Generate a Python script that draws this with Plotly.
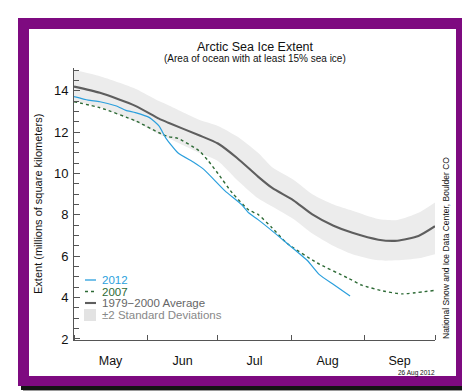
import plotly.graph_objects as go

# ---------------- data ----------------
avg_dates = ["2012-05-01", "2012-05-12", "2012-05-27", "2012-06-06", "2012-06-10", "2012-06-23",
             "2012-07-01", "2012-07-09", "2012-07-18", "2012-07-24", "2012-08-02", "2012-08-10",
             "2012-08-19", "2012-08-27", "2012-09-07", "2012-09-15", "2012-09-24", "2012-10-01"]
avg_vals = [14.2, 13.9, 13.27, 12.65, 12.45, 11.85, 11.45, 10.76, 9.85, 9.3, 8.7, 8.02,
            7.47, 7.13, 6.8, 6.75, 6.98, 7.45]
sd_upper = [15.0, 14.7, 14.1, 13.5, 13.3, 12.6, 12.3, 11.8, 11.0, 10.3, 9.7, 9.0,
            8.5, 8.2, 7.8, 7.75, 8.1, 8.6]
sd_lower = [13.5, 13.2, 12.5, 11.9, 11.7, 11.0, 10.6, 9.7, 8.8, 8.4, 7.8, 7.1,
            6.5, 6.1, 5.8, 5.8, 5.9, 6.1]

y2012_dates = ["2012-05-01", "2012-05-07", "2012-05-12", "2012-05-19", "2012-05-23", "2012-05-27",
               "2012-06-02", "2012-06-06", "2012-06-09", "2012-06-14", "2012-06-21", "2012-06-25",
               "2012-07-04", "2012-07-11", "2012-07-14", "2012-07-18", "2012-07-25", "2012-07-30",
               "2012-08-08", "2012-08-13", "2012-08-19", "2012-08-26"]
y2012_vals = [13.72, 13.55, 13.47, 13.26, 13.05, 12.94, 12.7, 12.3, 11.7, 11.0, 10.52, 10.2,
              9.16, 8.5, 8.1, 7.77, 7.13, 6.65, 5.78, 5.11, 4.63, 4.08]

y2007_dates = ["2012-05-01", "2012-05-12", "2012-05-27", "2012-06-06", "2012-06-10", "2012-06-14",
               "2012-06-23", "2012-06-27", "2012-07-01", "2012-07-07", "2012-07-14", "2012-07-18",
               "2012-07-24", "2012-07-30", "2012-08-12", "2012-08-25", "2012-08-31", "2012-09-09",
               "2012-09-17", "2012-10-01"]
y2007_vals = [13.47, 13.18, 12.55, 11.97, 11.78, 11.7, 11.1, 10.6, 10.0, 9.07, 8.24, 8.02,
              7.37, 6.65, 5.68, 4.95, 4.6, 4.32, 4.18, 4.35]

y_tick_vals = [2, 4, 6, 8, 10, 12, 14]
legend_labels = ["2012", "2007", "1979\u22122000 Average", "\u00b12 Standard Deviations"]

# ---------------- layout geometry ----------------
W, H = 470, 391
L, R, T, B = 66, 427, 60, 332  # plot area in pixels
PW, PH = R - L, B - T


def px(x):
    return (x - L) / PW


def py(y):
    return (B - y) / PH


FONT = "Liberation Sans, Arial, Helvetica, sans-serif"
BLUE = "#2a9fdd"
GREEN = "#2d6a35"
AVG = "#5e5e5e"
BAND = "#ececec"

fig = go.Figure()
fig.add_trace(go.Scatter(x=avg_dates, y=sd_upper, mode="lines",
                         line=dict(width=0, shape="spline", smoothing=0.6),
                         showlegend=False, hoverinfo="skip"))
fig.add_trace(go.Scatter(x=avg_dates, y=sd_lower, mode="lines",
                         line=dict(width=0, shape="spline", smoothing=0.6),
                         fill="tonexty", fillcolor=BAND, showlegend=False, hoverinfo="skip"))
fig.add_trace(go.Scatter(x=avg_dates, y=avg_vals, mode="lines",
                         line=dict(color=AVG, width=2.1, shape="spline", smoothing=0.6), showlegend=False))
fig.add_trace(go.Scatter(x=y2007_dates, y=y2007_vals, mode="lines",
                         line=dict(color=GREEN, width=1.4, dash="3px,3px", shape="spline", smoothing=0.5),
                         showlegend=False))
fig.add_trace(go.Scatter(x=y2012_dates, y=y2012_vals, mode="lines",
                         line=dict(color=BLUE, width=1.2, shape="spline", smoothing=0.5),
                         showlegend=False))

shapes = [
    # frame: shadow, purple border, white inner panel
    dict(type="rect", xref="paper", yref="paper", x0=px(15), x1=px(465), y0=py(384), y1=py(15),
         fillcolor="#9a9a9a", line=dict(width=0), layer="below"),
    dict(type="rect", xref="paper", yref="paper", x0=px(13), x1=px(463), y0=py(382), y1=py(13),
         fillcolor="#141414", line=dict(width=0), layer="below"),
    dict(type="rect", xref="paper", yref="paper", x0=px(10), x1=px(459), y0=py(378), y1=py(10),
         fillcolor="#7e0a80", line=dict(width=0), layer="below"),
    dict(type="rect", xref="paper", yref="paper", x0=px(21), x1=px(448), y0=py(368), y1=py(21),
         fillcolor="white", line=dict(width=0), layer="below"),
    # legend glyphs
    dict(type="line", xref="paper", yref="paper", x0=px(77), x1=px(88), y0=py(272), y1=py(272),
         line=dict(color=BLUE, width=1.3)),
    dict(type="line", xref="paper", yref="paper", x0=px(77), x1=px(88), y0=py(283.5), y1=py(283.5),
         line=dict(color=GREEN, width=1.4, dash="3px,3px")),
    dict(type="line", xref="paper", yref="paper", x0=px(77), x1=px(88), y0=py(295), y1=py(295),
         line=dict(color=AVG, width=2.1)),
    dict(type="rect", xref="paper", yref="paper", x0=px(76), x1=px(88), y0=py(313), y1=py(301),
         fillcolor="#e3e3e3", line=dict(width=0)),
]

annotations = [
    dict(text="Arctic Sea Ice Extent", x=px(247), y=py(39), font=dict(size=12.5, color="#111")),
    dict(text="(Area of ocean with at least 15% sea ice)", x=px(247), y=py(50.5),
         font=dict(size=10, color="#111")),
    dict(text="Extent (millions of square kilometers)", x=px(30), y=py(196), textangle=-90,
         font=dict(size=11, color="#111")),
    dict(text="National Snow and Ice Data Center, Boulder CO", x=px(438), y=py(240), textangle=-90,
         font=dict(size=8.5, color="#111")),
    dict(text="26 Aug 2012", x=px(408), y=py(365), font=dict(size=6.5, color="#111")),
]
leg_colors = [BLUE, GREEN, "#666666", "#888888"]
leg_y = [272, 283.5, 295, 307]
for lab, col, yy in zip(legend_labels, leg_colors, leg_y):
    annotations.append(dict(text=lab, x=px(92), y=py(yy), xanchor="left",
                            font=dict(size=11.5, color=col)))
for a in annotations:
    a.update(xref="paper", yref="paper", showarrow=False)
    a.setdefault("xanchor", "center")
    a["yanchor"] = "middle"
    a["font"]["family"] = FONT

fig.update_layout(
    width=W, height=H,
    margin=dict(l=L, r=W - R, t=T, b=H - B, pad=0),
    paper_bgcolor="white", plot_bgcolor="rgba(0,0,0,0)",
    font=dict(family=FONT, color="#111"),
    shapes=shapes, annotations=annotations, showlegend=False,
)
fig.update_xaxes(
    type="date", range=["2012-05-01", "2012-10-01"], dtick="M1", tick0="2012-05-01",
    ticklabelmode="period", tickformat="%b", ticks="inside", ticklen=5, tickcolor="#555",
    showline=True, linecolor="#555", linewidth=1, showgrid=False, zeroline=False,
    tickfont=dict(size=12.5, color="#111"), ticklabelstandoff=9,
)
fig.update_yaxes(
    range=[1.95, 15.1], tickvals=y_tick_vals, ticks="inside", ticklen=6, tickcolor="#555",
    showline=True, linecolor="#555", linewidth=1, showgrid=False, zeroline=False,
    tickfont=dict(size=13, color="#111"), ticklabelstandoff=2,
    minor=dict(dtick=0.5, tick0=0, ticks="inside", ticklen=5, tickcolor="#555", showgrid=False),
)

fig.write_html("out.html")
